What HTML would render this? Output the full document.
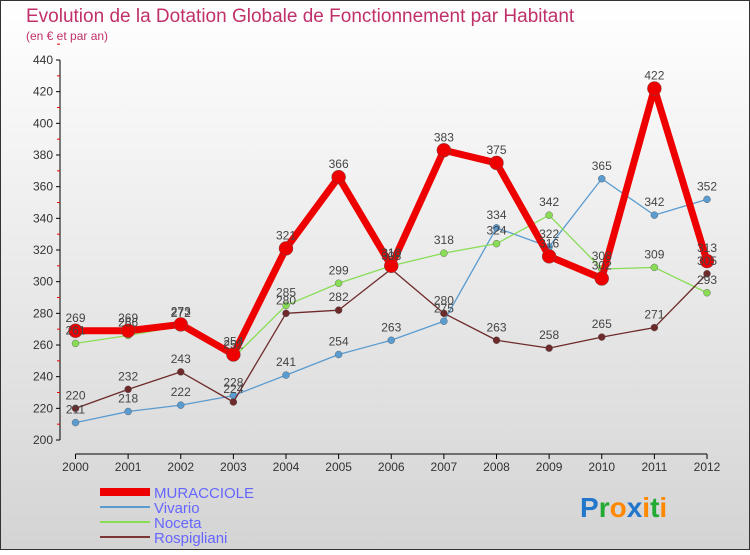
<!DOCTYPE html>
<html><head><meta charset="utf-8">
<style>
body{margin:0;}
#c{width:750px;height:550px;position:relative;font-family:"Liberation Sans",sans-serif;}
</style></head>
<body>
<div id="c">
<svg id="s" width="750" height="550" xmlns="http://www.w3.org/2000/svg">
<defs><linearGradient id="bg" x1="0" y1="0" x2="0" y2="1"><stop offset="0" stop-color="#ffffff"/><stop offset="1" stop-color="#d4d4d4"/></linearGradient></defs>
<rect x="0.5" y="0.5" width="749" height="549" fill="url(#bg)" stroke="#333"/>
<text x="26" y="22" font-size="19" fill="#c0306a">Evolution de la Dotation Globale de Fonctionnement par Habitant</text>
<text x="26" y="40" font-size="12" fill="#c0306a">(en € et par an)</text>
<g id="axes"></g><g id="series"></g><g id="labels"></g>
<g>
<line x1="100" y1="492" x2="150" y2="492" stroke="#ee0000" stroke-width="8"/>
<text x="154" y="498" font-size="15" fill="#6666ff">MURACCIOLE</text>
<line x1="100" y1="507" x2="150" y2="507" stroke="#5a9bd0" stroke-width="2"/>
<text x="154" y="513" font-size="15" fill="#6666ff">Vivario</text>
<line x1="100" y1="522" x2="150" y2="522" stroke="#88dd55" stroke-width="2"/>
<text x="154" y="528" font-size="15" fill="#6666ff">Noceta</text>
<line x1="100" y1="537" x2="150" y2="537" stroke="#7a3535" stroke-width="2"/>
<text x="154" y="543" font-size="15" fill="#6666ff">Rospigliani</text>
</g>
<g font-size="28" font-weight="bold">
<text x="580" y="517"><tspan fill="#2277cc">P</tspan><tspan fill="#22aa33">r</tspan><tspan fill="#ff8800">o</tspan><tspan fill="#2277cc">x</tspan><tspan fill="#ff8800">i</tspan><tspan fill="#22aa33">t</tspan><tspan fill="#ff8800">i</tspan></text>
</g>
</svg>
</div>
<script>
const years=["2000","2001","2002","2003","2004","2005","2006","2007","2008","2009","2010","2011","2012"];
const yTicks=[200,220,240,260,280,300,320,340,360,380,400,420,440];
const muracciole=[269,269,273,254,321,366,310,383,375,316,302,422,313];
const vivario=[211,218,222,228,241,254,263,275,334,322,365,342,352];
const noceta=[261,266,272,252,285,299,310,318,324,342,308,309,293];
const rospigliani=[220,232,243,224,280,282,308,280,263,258,265,271,305];
const NS="http://www.w3.org/2000/svg";
const X=i=>75.5+i*(707-75.5)/12;
const Y=v=>440-(v-200)*(380/240);
function mk(t,a,p){const e=document.createElementNS(NS,t);for(const k in a)e.setAttribute(k,a[k]);p.appendChild(e);return e;}
const ax=document.getElementById('axes');
mk('line',{x1:60,y1:60,x2:60,y2:440,stroke:'#000'},ax);
mk('line',{x1:75.5,y1:454,x2:707,y2:454,stroke:'#000'},ax);
yTicks.forEach(v=>{
 mk('line',{x1:56,y1:Y(v),x2:60,y2:Y(v),stroke:'#000'},ax);
 mk('line',{x1:57,y1:Y(v+10),x2:60,y2:Y(v+10),stroke:'#e00'},ax);
 const t=mk('text',{x:53,y:Y(v)+4,'font-size':12,fill:'#333','text-anchor':'end'},ax);t.textContent=v;
 
 
});
years.forEach((y,i)=>{
 mk('line',{x1:X(i),y1:454,x2:X(i),y2:459,stroke:'#000'},ax);
 const t=mk('text',{x:X(i),y:471,'font-size':12,fill:'#333','text-anchor':'middle'},ax);t.textContent=y;
 
 
});
const sg=document.getElementById('series'),lg=document.getElementById('labels');
function series(name,data,col,w,r){
 const g=mk('g',{},sg);
 
 
 mk('polyline',{points:data.map((v,i)=>X(i)+','+Y(v)).join(' '),fill:'none',stroke:col,'stroke-width':w,'stroke-linejoin':'round'},g);
 data.forEach((v,i)=>{
  const c=mk('circle',{cx:X(i),cy:Y(v),r:r,fill:col,stroke:'#555','stroke-width':0.4},g);
  
  
  const t=mk('text',{x:X(i),y:Y(v)-9,'font-size':12,fill:'#444','text-anchor':'middle'},lg);t.textContent=v;
  
  
 });
}
series('vivario',vivario,'#5a9bd0',1.3,3.5);
series('noceta',noceta,'#88dd55',1.3,3.5);
series('rospigliani',rospigliani,'#6e2a2a',1.3,3.5);
series('muracciole',muracciole,'#ee0000',7,7);
</script>
</body></html>
